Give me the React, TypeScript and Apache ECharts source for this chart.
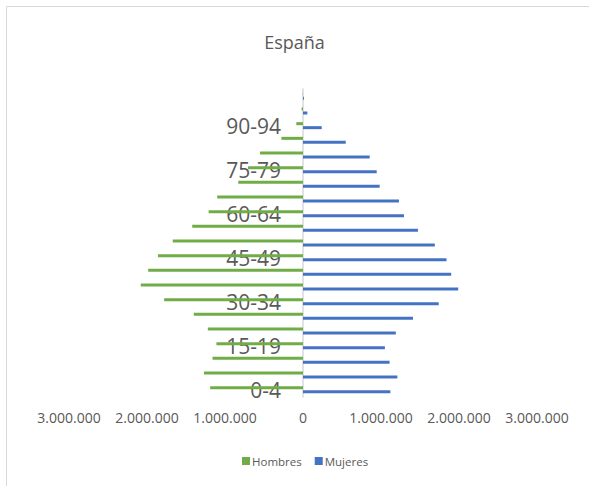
import React, { useEffect, useRef } from "react";
import * as echarts from "echarts";

const categories = [
  "0-4", "5-9", "10-14", "15-19", "20-24", "25-29", "30-34", "35-39", "40-44", "45-49",
  "50-54", "55-59", "60-64", "65-69", "70-74", "75-79", "80-84", "85-89", "90-94", "95-99", "100+",
];
const hombres = [
  1190000, 1270000, 1160000, 1110000, 1220000, 1400000, 1780000, 2080000, 1985000, 1860000,
  1670000, 1420000, 1210000, 1100000, 830000, 705000, 551000, 277000, 86000, 18000, 3000,
];
const mujeres = [
  1120000, 1210000, 1110000, 1050000, 1190000, 1410000, 1740000, 1990000, 1900000, 1840000,
  1690000, 1474000, 1295000, 1230000, 983000, 945000, 855000, 548000, 240000, 56000, 12000,
];
const seriesNames = ["Hombres", "Mujeres"];
const xTicks = { min: -3000000, max: 3000000, step: 1000000 };
const title = "España";

const fmt = (v: number) =>
  Math.abs(v).toString().replace(/\B(?=(\d{3})+(?!\d))/g, ".");

export default function App() {
  const ref = useRef<HTMLDivElement>(null);
  useEffect(() => {
    const chart = echarts.init(ref.current!, null, { renderer: "svg" });
    chart.setOption({
      animation: false,
      backgroundColor: "#ffffff",
      textStyle: { fontFamily: "Open Sans" },
      title: {
        text: title,
        left: "center",
        top: 28,
        textStyle: { fontSize: 18, fontWeight: "normal", color: "#595959", fontFamily: "Open Sans" },
      },
      graphic: [
        {
          type: "rect",
          shape: { x: 6.5, y: 6.5, width: 700, height: 700 },
          style: { fill: "none", stroke: "#d9d9d9", lineWidth: 1 },
          silent: true,
          z: -1,
        },
      ],
      legend: {
        data: seriesNames,
        bottom: 19,
        left: 242,
        padding: 0,
        itemWidth: 8,
        itemHeight: 8,
        itemGap: 13,
        icon: "rect",
        textStyle: {
          fontSize: 11.5,
          color: "#595959",
          fontFamily: "Open Sans",
          padding: [0, 0, 0, -3],
        },
      },
      grid: {
        left: 69,
        right: 52,
        top: 89,
        bottom: 89,
        containLabel: false,
        outerBoundsMode: "none",
      },
      xAxis: {
        type: "value",
        min: xTicks.min,
        max: xTicks.max,
        interval: xTicks.step,
        axisLine: { show: false },
        axisTick: { show: false },
        splitLine: { show: false },
        axisLabel: {
          formatter: (v: number) => fmt(v),
          fontSize: 14,
          color: "#595959",
          margin: 13,
          fontFamily: "Open Sans",
        },
      },
      yAxis: {
        type: "category",
        data: categories,
        offset: -234,
        axisLine: { show: true, onZero: false, lineStyle: { color: "#d9d9d9", width: 1.5 } },
        axisTick: { show: false },
        axisLabel: {
          interval: 2,
          fontSize: 21,
          color: "#595959",
          margin: 22,
          fontFamily: "Open Sans",
        },
      },
      series: [
        {
          name: "Hombres",
          type: "bar",
          data: hombres.map((v) => -v),
          barWidth: 3,
          barGap: "33%",
          itemStyle: { color: "#70AD47" },
        },
        {
          name: "Mujeres",
          type: "bar",
          data: mujeres,
          barWidth: 3,
          barGap: "33%",
          itemStyle: { color: "#4472C4" },
        },
      ],
    });
    return () => chart.dispose();
  }, []);
  return (
    <div
      ref={ref}
      style={{ position: "absolute", left: 0, top: 0, width: 589, height: 486 }}
    />
  );
}
